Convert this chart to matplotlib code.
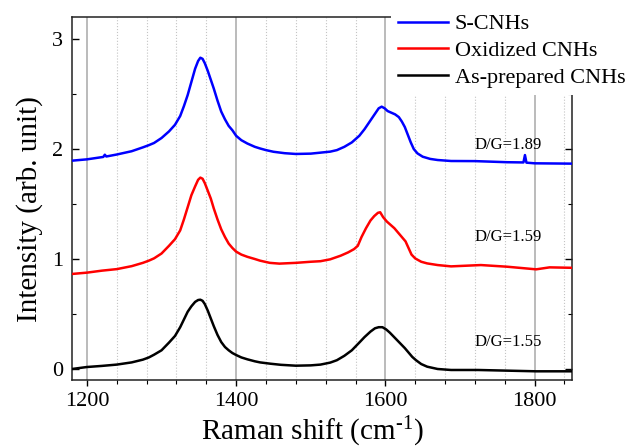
"""
Raman spectra of S-CNHs, oxidized CNHs and as-prepared CNHs (offset stack).
"""
import matplotlib
matplotlib.use('Agg')
import matplotlib.pyplot as plt
from matplotlib.ticker import MultipleLocator
from matplotlib.lines import Line2D

plt.rcParams['font.family'] = ['Liberation Serif', 'DejaVu Serif']
plt.rcParams['mathtext.fontset'] = 'custom'
plt.rcParams['mathtext.rm'] = 'Liberation Serif'
plt.rcParams['mathtext.default'] = 'regular'

# --- data (Raman shift in cm-1, offset intensity) ---
s_cnh_x = [1180, 1200, 1222, 1224, 1226, 1240, 1260, 1275, 1283, 1290, 1300, 1310, 1318,
           1325, 1330, 1335, 1340, 1345, 1349, 1352, 1355, 1358, 1362, 1366, 1370, 1375,
           1380, 1385, 1390, 1395, 1400, 1407, 1415, 1425, 1432, 1440, 1450, 1465, 1480,
           1500, 1513, 1526, 1535, 1545, 1555, 1565, 1572, 1580, 1586, 1591, 1595, 1599,
           1603, 1608, 1613, 1618, 1622, 1626, 1630, 1634, 1638, 1643, 1650, 1660, 1670,
           1688, 1720, 1763, 1785, 1787, 1789, 1800, 1850]
s_cnh_y = [1.894, 1.906, 1.928, 1.948, 1.932, 1.950, 1.980, 2.015, 2.035, 2.055, 2.100,
           2.160, 2.220, 2.300, 2.390, 2.490, 2.610, 2.730, 2.800, 2.830, 2.820, 2.780,
           2.710, 2.630, 2.550, 2.440, 2.340, 2.270, 2.210, 2.170, 2.120, 2.080, 2.050,
           2.020, 2.005, 1.990, 1.975, 1.962, 1.955, 1.958, 1.967, 1.976, 1.990, 2.020,
           2.060, 2.120, 2.180, 2.260, 2.320, 2.370, 2.385, 2.370, 2.345, 2.330, 2.315,
           2.290, 2.250, 2.200, 2.130, 2.060, 2.000, 1.960, 1.930, 1.910, 1.900, 1.891,
           1.890, 1.880, 1.878, 1.945, 1.876, 1.870, 1.867]

ox_cnh_x = [1180, 1200, 1220, 1240, 1260, 1275, 1283, 1290, 1300, 1310, 1318, 1325, 1330,
            1335, 1340, 1345, 1349, 1352, 1355, 1358, 1362, 1366, 1370, 1375, 1380, 1385,
            1390, 1395, 1400, 1407, 1415, 1425, 1432, 1445, 1458, 1480, 1500, 1513, 1526,
            1540, 1550, 1558, 1563, 1568, 1574, 1580, 1585, 1590, 1593, 1597, 1602, 1607,
            1612, 1617, 1622, 1627, 1631, 1635, 1640, 1648, 1656, 1670, 1688, 1728, 1763,
            1802, 1820, 1850]
ox_cnh_y = [0.864, 0.876, 0.894, 0.908, 0.935, 0.965, 0.985, 1.006, 1.050, 1.120, 1.180,
            1.260, 1.360, 1.470, 1.580, 1.660, 1.720, 1.740, 1.730, 1.690, 1.620, 1.550,
            1.460, 1.360, 1.270, 1.200, 1.140, 1.100, 1.067, 1.040, 1.020, 1.000, 0.985,
            0.965, 0.958, 0.965, 0.975, 0.980, 0.997, 1.030, 1.060, 1.090, 1.120, 1.200,
            1.280, 1.350, 1.390, 1.420, 1.425, 1.380, 1.340, 1.310, 1.280, 1.240, 1.200,
            1.160, 1.100, 1.040, 1.005, 0.975, 0.960, 0.945, 0.933, 0.945, 0.930, 0.906,
            0.924, 0.920]

ap_cnh_x = [1180, 1200, 1220, 1240, 1260, 1275, 1283, 1290, 1300, 1310, 1318, 1325, 1330,
            1335, 1340, 1345, 1349, 1352, 1355, 1358, 1362, 1366, 1370, 1375, 1380, 1385,
            1390, 1395, 1400, 1407, 1415, 1425, 1432, 1446, 1460, 1480, 1500, 1513, 1526,
            1535, 1545, 1555, 1565, 1572, 1580, 1586, 1591, 1596, 1601, 1606, 1611, 1616,
            1621, 1626, 1631, 1636, 1641, 1648, 1656, 1670, 1688, 1724, 1763, 1802, 1850]
ap_cnh_y = [0.000, 0.018, 0.028, 0.040, 0.060, 0.085, 0.105, 0.130, 0.170, 0.240, 0.300,
            0.380, 0.450, 0.520, 0.570, 0.610, 0.627, 0.630, 0.620, 0.590, 0.530, 0.460,
            0.390, 0.310, 0.245, 0.200, 0.170, 0.145, 0.127, 0.105, 0.088, 0.070, 0.060,
            0.048, 0.038, 0.030, 0.033, 0.040, 0.058, 0.080, 0.120, 0.170, 0.240, 0.290,
            0.340, 0.370, 0.380, 0.380, 0.360, 0.330, 0.295, 0.260, 0.225, 0.190, 0.150,
            0.110, 0.080, 0.045, 0.021, 0.000, -0.009, -0.009, -0.015, -0.021, -0.021]

series_labels = ['S-CNHs', 'Oxidized CNHs', 'As-prepared CNHs']
series_colors = ['#0000ff', '#ff0000', '#000000']
ratio_labels = ['D/G=1.89', 'D/G=1.59', 'D/G=1.55']
ratio_pos = [(1764, 2.036), (1764, 1.20), (1764, 0.245)]

fig = plt.figure(figsize=(6.32, 4.48), dpi=100)
ax = fig.add_axes([0.1139, 0.1518, 0.7911, 0.8102])

curves = [(s_cnh_x, s_cnh_y), (ox_cnh_x, ox_cnh_y), (ap_cnh_x, ap_cnh_y)]
for (xs, ys), col in zip(curves, series_colors):
    ax.plot(xs, ys, color=col, lw=1.8, zorder=3, solid_joinstyle='round')

for txt, (tx, ty) in zip(ratio_labels, ratio_pos):
    ax.text(tx, ty, txt, fontsize=12, ha='center', va='center', color='black')

ax.set_xlim(1180, 1850)
ax.set_ylim(-0.1, 3.2)

# vertical grid only: solid at majors, dotted at minors
ax.xaxis.set_major_locator(MultipleLocator(200))
ax.xaxis.set_minor_locator(MultipleLocator(40))
ax.yaxis.set_major_locator(MultipleLocator(1))
ax.yaxis.set_minor_locator(MultipleLocator(0.5))
ax.grid(axis='x', which='major', color='#a8a8a8', lw=1.1, ls='-', zorder=0)
ax.grid(axis='x', which='minor', color='#c4c4c4', lw=0.8, ls=':', zorder=0)
ax.set_axisbelow(True)

ax.tick_params(axis='x', which='major', direction='out', length=4.5, width=1.0,
               labelsize=16, pad=4, top=False)
ax.tick_params(axis='x', which='minor', direction='out', length=3, width=0.8, top=False)
ax.tick_params(axis='y', which='major', direction='in', length=5, width=1.0,
               labelsize=16, pad=6.5, right=True)
ax.tick_params(axis='y', which='minor', direction='in', length=3, width=0.8, right=True)

for sp in ax.spines.values():
    sp.set_linewidth(1.1)
    sp.set_color('#222222')

ax.set_xlabel(r'Raman shift (cm$^{\text{-1}}$)', fontsize=21)
ax.set_ylabel('Intensity (arb. unit)', fontsize=21)
ax.xaxis.set_label_coords(0.48, -0.097)
ax.yaxis.set_label_coords(-0.058, 0.47)

handles = [Line2D([], [], color=c, lw=1.8) for c in series_colors]
leg = fig.legend(handles, series_labels, loc='upper right', bbox_to_anchor=(1.0, 0.984),
                 fontsize=16, frameon=True, fancybox=False, framealpha=1.0,
                 facecolor='white', edgecolor='none', borderpad=0.3, borderaxespad=0,
                 handlelength=2.25, handletextpad=0.3, labelspacing=0.28)

fig.savefig('out.png', dpi=100, facecolor='white')
plt.close()
